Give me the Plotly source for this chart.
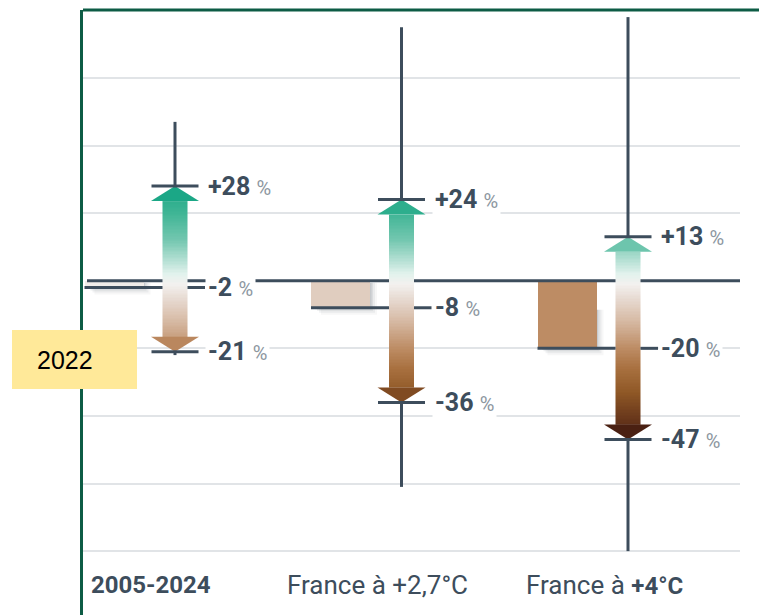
import numpy as np
import plotly.graph_objects as go
from plotly.colors import sample_colorscale

# ---- data (percent change) ----
categories = ["2005-2024", "France à +2,7°C", "France à +4°C"]
cat_labels = ["<b style='font-size:24px'>2005-2024</b>", "France à +2,7°C",
              "France à <b style='font-size:24px'>+4°C</b>"]
median = [-2, -8, -20]
q_high = [28, 24, 13]
q_low = [-21, -36, -47]
whisk_high = [47, 75, 78]
whisk_low = [-22, -61, -80]
grid_vals = [-80, -60, -40, -20, 20, 40, 60]

# ---- styling ----
DARK = "#3d4d5c"
GREEN_FRAME = "#0d5c45"
PX_X = 226.5          # pixels per category unit
PX_Y = 3.379          # pixels per percent
Z_MIN, Z_MAX = -50, 30

def zpos(v):
    return (v - Z_MIN) / (Z_MAX - Z_MIN)

stops = [(-50, "#3a170c"), (-47, "#4a2012"), (-40, "#6c3a1c"), (-33, "#8f5826"),
         (-26, "#a8703f"), (-20, "#bd8c64"), (-12, "#d6b9a3"), (-5, "#e8dcd4"),
         (-1, "#f3f1ef"), (2, "#e2f2ed"), (6, "#b5e0d4"), (12, "#74c7b0"),
         (20, "#3fb595"), (30, "#12a482")]
cscale = [[zpos(v), c] for v, c in stops]

def color_at(v):
    return sample_colorscale(cscale, [min(max(zpos(v), 0), 1)])[0]

shaft_w = 25 / PX_X
head_w = 48 / PX_X
head_h = 15 / PX_Y
bar_off = 61 / PX_X
bar_w = 59 / PX_X
lab_off = 30 / PX_X
tick_half = 23.5 / PX_X
med_end = 30 / PX_X
x_lo = -92 / PX_X
x_hi = x_lo + 657 / PX_X

fig = go.Figure()
shapes = []

def seg(xs, ys, width=3):
    fig.add_trace(go.Scatter(x=xs, y=ys, mode="lines", line=dict(color=DARK, width=width),
                             hoverinfo="skip"))

for i, name in enumerate(categories):
    x = i
    # soft drop shadow under the median bar
    bx0, bx1 = x - bar_off - bar_w / 2, x - bar_off + bar_w / 2
    for k, op in [(7, 0.04), (5, 0.06), (3, 0.08), (1.5, 0.10)]:
        shapes.append(dict(type="rect", layer="below", xref="x", yref="y",
                           x0=bx0 + (3 + k) / PX_X, x1=bx1 + k / PX_X,
                           y0=median[i] - k / PX_Y, y1=min(0, median[i] + 12) - 2 / PX_Y,
                           line_width=0, fillcolor=f"rgba(40,50,60,{op})"))

    # whiskers outside the arrow
    seg([x, x], [q_high[i], whisk_high[i]])
    seg([x, x], [whisk_low[i], q_low[i]])

    # median bar
    fig.add_trace(go.Bar(x=[x - bar_off], y=[median[i]], base=0, width=bar_w,
                         marker=dict(color=color_at(median[i]), line_width=0),
                         hoverinfo="skip"))
    # median line (split around the arrow shaft)
    seg([bx0, x - shaft_w / 2], [median[i], median[i]])
    seg([x + shaft_w / 2, x + med_end], [median[i], median[i]])

# zero line, interrupted by the arrow shafts
zx = [x_lo + 4 / PX_X]
for i in range(len(categories)):
    zx += [i - shaft_w / 2, i + shaft_w / 2]
zx.append(x_hi)
for a, b in zip(zx[0::2], zx[1::2]):
    seg([a, b], [0, 0])

for i, name in enumerate(categories):
    x = i
    # gradient shaft of the double arrow
    y_edges = np.linspace(q_low[i] + head_h, q_high[i] - head_h,
                          int((q_high[i] - q_low[i]) * 2) + 1)
    y_mid = (y_edges[:-1] + y_edges[1:]) / 2
    fig.add_trace(go.Heatmap(x=[x - shaft_w / 2, x + shaft_w / 2], y=y_edges,
                             z=y_mid.reshape(-1, 1), colorscale=cscale, zmin=Z_MIN, zmax=Z_MAX,
                             showscale=False, hoverinfo="skip"))
    # arrow heads
    for tip, sgn in [(q_high[i], -1), (q_low[i], 1)]:
        base = tip + sgn * head_h
        fig.add_trace(go.Scatter(x=[x - head_w / 2, x, x + head_w / 2, x - head_w / 2],
                                 y=[base, tip, base, base], mode="lines", fill="toself",
                                 fillcolor=color_at(tip), line=dict(width=0),
                                 hoverinfo="skip"))
    # quantile caps
    for v in (q_high[i], q_low[i]):
        seg([x - tick_half, x + tick_half], [v, v])

    # value labels
    for v in (q_high[i], median[i], q_low[i]):
        txt = f"{v:+d}" if v > 0 else f"-{abs(v)}"
        fig.add_annotation(x=x + lab_off, y=v, xref="x", yref="y", xanchor="left",
                           yanchor="middle", showarrow=False, bgcolor="white", borderpad=2,
                           text=f"<b>{txt}</b> <span style='font-size:20px;color:#8d979f'>%</span>",
                           font=dict(family="Roboto", size=25, color=DARK))

    # category label
    fig.add_annotation(x=x - 0.105, y=-90, xref="x", yref="y", showarrow=False,
                       text=cat_labels[i], xanchor="center", yanchor="middle",
                       font=dict(family="Roboto", size=26, color=DARK))

# top frame line
shapes.append(dict(type="line", xref="paper", yref="paper", x0=0, x1=1.03, y0=1, y1=1,
                   line=dict(color=GREEN_FRAME, width=3)))

# "2022" sticker
def px_x(p):
    return (p - 83) / 657

def px_y(p):
    return (615 - p) / 605

shapes.append(dict(type="rect", xref="paper", yref="paper", layer="above",
                   x0=px_x(12), x1=px_x(137), y0=px_y(389), y1=px_y(330),
                   fillcolor="#ffe999", line_width=0))
fig.add_annotation(xref="paper", yref="paper", x=px_x(65), y=px_y(360),
                   text="2022", showarrow=False, xanchor="center", yanchor="middle",
                   font=dict(family="Liberation Sans", size=25, color="black"))

fig.update_layout(
    width=759, height=615, margin=dict(l=83, r=19, t=10, b=0),
    paper_bgcolor="white", plot_bgcolor="white", showlegend=False,
    shapes=shapes, bargap=0,
    xaxis=dict(range=[x_lo, x_hi], showgrid=False,
               zeroline=False, showticklabels=False, fixedrange=True),
    yaxis=dict(range=[-98.9, 80.1], tickvals=grid_vals, showticklabels=False,
               showgrid=True, gridcolor="#e1e4e7", gridwidth=2, zeroline=False,
               showline=True, linecolor=GREEN_FRAME, linewidth=3, ticks=""),
)

fig.write_html("out.html")
